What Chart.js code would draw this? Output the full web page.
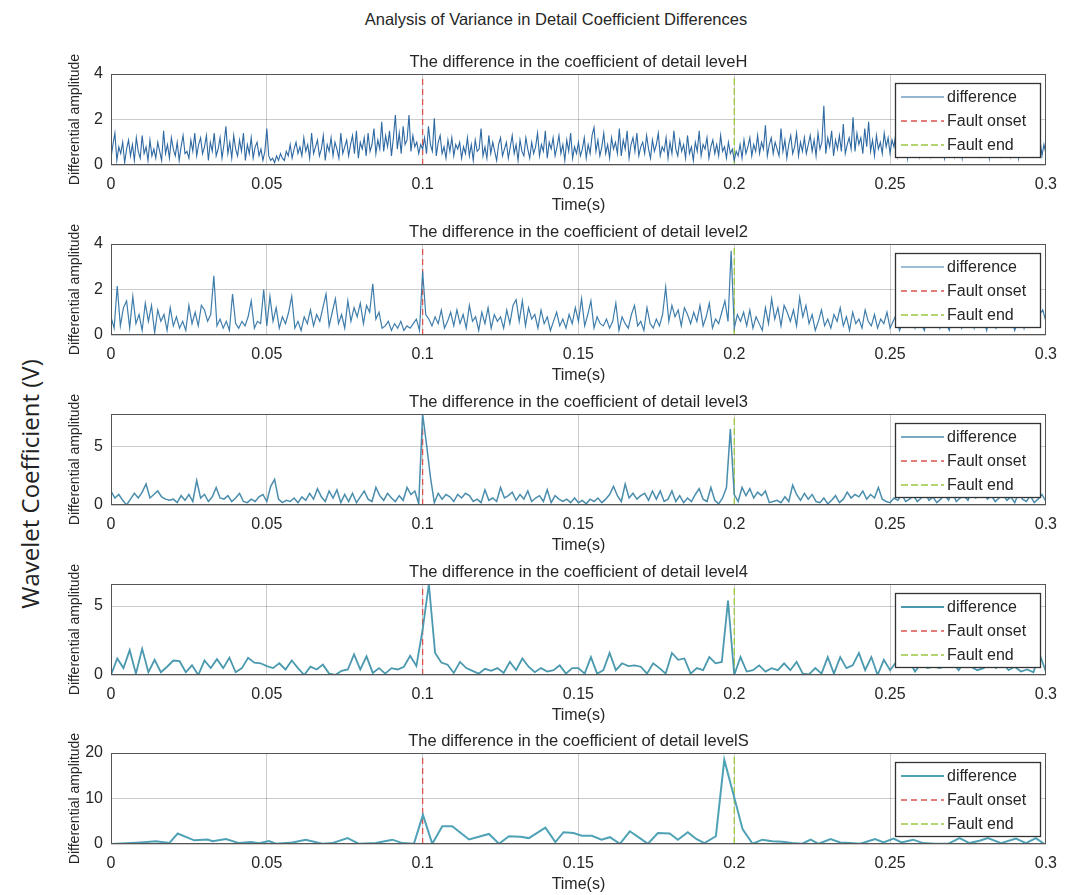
<!DOCTYPE html>
<html>
<head>
<meta charset="utf-8">
<title>Analysis of Variance in Detail Coefficient Differences</title>
<script src="https://cdn.jsdelivr.net/npm/chart.js@4.4.1/dist/chart.umd.min.js"></script>
<style>
  body { margin: 0; background: #fff; }
  #page { position: relative; width: 1067px; height: 895px; overflow: hidden;
          font-family: "Liberation Sans", Arial, sans-serif; color: #262626; }
  #mainTitle { position: absolute; left: 0; top: 10px; width: 1112px; text-align: center; font-size: 16.5px; }
  #bigLabel { position: absolute; left: -170px; top: 468px; width: 400px; height: 32px; line-height: 32px;
              text-align: center; font-family: "Open Sans", "Noto Sans", sans-serif; font-size: 24px;
              color: #222; transform: rotate(-90deg); }
  canvas { position: absolute; left: 0; }
</style>
</head>
<body>
<div id="page">
  <div id="mainTitle">Analysis of Variance in Detail Coefficient Differences</div>
  <div id="bigLabel">Wavelet Coefficient (V)</div>
  <canvas id="c1" width="1067" height="181"></canvas>
  <canvas id="c2" width="1067" height="181"></canvas>
  <canvas id="c3" width="1067" height="181"></canvas>
  <canvas id="c4" width="1067" height="181"></canvas>
  <canvas id="c5" width="1067" height="181"></canvas>
</div>
<script>
// Tijd-as en foutmomenten
const xTicks = [0, 0.05, 0.1, 0.15, 0.2, 0.25, 0.3];
const faultOnset = 0.1;
const faultEnd = 0.2;

const titles = [
  "The difference in the coefficient of detail leveH",
  "The difference in the coefficient of detail level2",
  "The difference in the coefficient of detail level3",
  "The difference in the coefficient of detail level4",
  "The difference in the coefficient of detail levelS",
];
const yMax = [4, 4, 7.8, 6.6, 20];
const yTicks1 = [0, 2, 4];
const yTicks2 = [0, 2, 4];
const yTicks3 = [0, 5];
const yTicks4 = [0, 5];
const yTicks5 = [0, 10, 20];

// Level 1: sample period 0.000625 s
const dt1 = 0.000625;
const level1Values = [
  0.3, 0.9, 1.4, 0.2, 0.8, 0.5, 1.0, 0.1, 0.7, 1.1, 0.4, 0.9, 0.2, 1.2, 0.6, 0.3, 1.3, 0.5, 0.8, 0.2,
  1.1, 0.4, 0.7, 0.3, 1.0, 0.6, 0.2, 1.5, 0.5, 0.9, 0.3, 1.2, 0.7, 0.4, 1.0, 0.2, 0.8, 1.3, 0.5, 0.6,
  0.3, 1.1, 0.6, 1.4, 0.4, 0.9, 1.2, 0.5, 0.8, 1.3, 0.2, 1.0, 0.6, 1.4, 0.4, 0.7, 1.2, 0.3, 0.9, 1.7,
  0.5, 1.0, 0.3, 1.3, 0.7, 0.4, 1.1, 0.6, 1.4, 0.2, 0.9, 0.5, 1.2, 0.3, 0.8, 1.0, 0.4, 0.7, 0.2, 0.6,
  1.6, 0.4, 0.2, 0.3, 0.1, 0.4, 0.2, 0.5, 0.3, 0.2, 0.6, 0.4, 0.9, 0.3, 0.7, 1.0, 0.5, 0.8, 0.4, 1.2,
  0.6, 0.9, 0.3, 1.4, 0.5, 0.8, 1.1, 0.4, 0.7, 1.3, 0.2, 0.9, 0.6, 1.2, 0.4, 1.0, 0.7, 0.3, 1.4, 0.5,
  0.8, 1.1, 0.4, 0.9, 1.3, 0.5, 1.5, 0.3, 1.0, 0.7, 1.2, 0.4, 1.4, 0.6, 0.9, 1.6, 0.5, 1.1, 0.7, 1.9,
  0.6, 1.3, 0.8, 1.5, 0.4, 1.2, 2.2, 0.7, 1.4, 0.5, 1.7, 0.9, 1.1, 2.2, 0.6, 1.3, 0.8, 1.0, 0.5, 0.9,
  0.7, 1.2, 0.5, 1.7, 0.9, 0.6, 2.05, 0.4, 1.0, 1.3, 0.5, 0.8, 0.3, 1.1, 0.6, 1.2, 0.4, 0.9, 0.7, 1.0,
  0.3, 0.8, 0.5, 1.2, 0.4, 0.9, 0.2, 1.1, 0.6, 0.7, 1.6, 0.4, 0.8, 0.3, 1.3, 0.5, 1.0, 0.6, 0.2, 0.9,
  1.2, 0.4, 0.7, 1.0, 0.3, 0.8, 1.3, 0.5, 0.9, 0.2, 1.1, 0.6, 0.4, 1.2, 0.7, 0.3, 1.0, 0.5, 0.8, 1.4,
  0.4, 0.9, 0.6, 1.5, 0.3, 1.0, 0.7, 1.2, 0.4, 0.8, 1.3, 0.5, 0.9, 0.2, 1.1, 0.6, 1.4, 0.3, 0.8, 0.5,
  1.0, 0.4, 0.7, 1.2, 0.3, 0.9, 0.5, 1.3, 1.65, 0.6, 1.1, 0.4, 0.8, 1.4, 0.5, 0.9, 0.3, 1.2, 0.7, 1.0,
  0.5, 1.6, 0.4, 1.1, 0.7, 1.5, 0.3, 0.9, 1.2, 0.6, 1.4, 0.4, 0.8, 1.0, 0.5, 1.3, 0.7, 0.3, 1.1, 0.6,
  0.9, 1.4, 0.4, 0.8, 0.6, 1.2, 0.3, 1.0, 0.5, 1.5, 0.7, 0.4, 1.1, 0.6, 0.9, 0.3, 1.3, 0.5, 0.8, 0.2,
  1.0, 0.6, 1.5, 0.4, 0.9, 0.7, 1.2, 0.3, 0.8, 1.1, 0.5, 0.9, 0.4, 1.3, 0.6, 0.8, 0.3, 1.0, 0.5, 0.7,
  0.2, 0.6, 0.4, 0.9, 0.3, 1.1, 0.5, 0.8, 1.2, 0.4, 0.9, 0.6, 1.3, 0.5, 1.0, 0.7, 1.75, 0.4, 0.9, 1.2,
  0.5, 1.0, 0.7, 0.4, 1.6, 0.6, 1.1, 0.3, 0.9, 1.3, 0.5, 0.8, 1.4, 0.4, 1.0, 0.6, 1.2, 0.5, 0.9, 1.3,
  0.6, 1.1, 0.4, 1.4, 0.7, 1.0, 2.6, 0.5, 1.2, 0.8, 1.5, 0.4, 1.1, 0.7, 1.3, 0.6, 1.8, 0.5, 0.9, 1.2,
  0.7, 2.1, 0.6, 1.4, 0.9, 1.2, 0.5, 1.6, 0.8, 1.9, 0.6, 1.1, 0.4, 1.3, 0.7, 1.0, 0.5, 1.4, 0.8, 1.2,
  0.5, 1.1, 0.8, 1.4, 0.4, 0.9, 1.2, 0.6, 1.0, 0.3, 1.3, 0.7, 0.9, 0.5, 1.2, 0.4, 1.0, 0.7, 1.5, 0.6,
  1.1, 0.4, 0.9, 1.3, 0.5, 1.0, 0.7, 1.2, 0.3, 0.8, 1.4, 0.6, 1.0, 0.4, 1.2, 0.7, 0.9, 0.3, 1.1, 0.5,
  0.9, 1.3, 0.5, 1.0, 0.7, 1.2, 0.4, 0.8, 1.1, 0.6, 1.3, 0.3, 0.9, 0.7, 1.2, 0.5, 1.0, 0.4, 0.8, 1.1,
  0.6, 1.0, 0.4, 1.2, 0.7, 0.9, 0.3, 1.1, 0.5, 1.3, 0.7, 0.4, 1.0, 0.6, 1.2, 0.5, 0.8, 1.1, 0.4, 0.9,
  0.5,
];

// Level 2: sample period 0.001 s
const dt2 = 0.001;
const level2Values = [
  0.8, 0.3, 2.15, 0.4, 1.2, 1.5, 0.3, 1.7, 0.5, 0.9, 0.2, 1.4, 0.6, 1.3, 0.1, 1.1, 0.6, 0.9, 0.2, 1.2, 0.4, 0.8, 0.3, 0.6, 0.2,
  1.3, 0.5, 1.0, 0.4, 1.3, 1.1, 0.6, 0.9, 2.6, 0.4, 0.7, 0.3, 0.6, 0.2, 1.8, 0.5, 0.3, 0.6, 0.4, 0.8, 1.5, 0.3, 0.6, 0.5, 2.0,
  0.4, 1.7, 0.6, 1.2, 0.3, 0.8, 0.5, 1.0, 1.7, 0.3, 0.6, 0.2, 0.8, 0.5, 1.1, 0.4, 0.9, 0.6, 1.2, 1.8, 0.4, 1.0, 1.6, 0.5, 0.9,
  0.3, 1.5, 0.6, 1.2, 0.8, 1.4, 0.5, 1.3, 1.0, 2.25, 0.7, 1.0, 0.3, 0.4, 0.6, 0.2, 0.5, 0.3, 0.6, 0.2, 0.4, 0.3, 0.5, 0.7, 0.2,
  2.8, 0.9, 0.7, 0.4, 0.8, 0.5, 1.1, 0.3, 0.6, 1.0, 0.4, 1.1, 0.5, 0.9, 0.3, 1.3, 0.6, 0.8, 0.2, 1.0, 0.5, 1.2, 0.3, 0.9, 0.6,
  0.8, 0.3, 1.1, 0.5, 1.3, 1.55, 0.6, 1.5, 0.4, 1.2, 0.7, 0.9, 0.3, 1.1, 0.5, 0.8, 0.2, 0.6, 1.0, 0.4, 0.7, 0.3, 0.9, 0.5, 1.2,
  0.6, 1.6, 0.4, 0.9, 1.5, 0.3, 0.8, 0.5, 0.4, 0.7, 0.3, 0.6, 1.4, 0.2, 0.8, 0.5, 0.3, 0.9, 1.3, 0.4, 0.6, 0.2, 1.2, 0.5, 0.3,
  0.7, 0.4, 0.9, 2.1, 0.6, 1.3, 0.8, 1.1, 0.4, 1.2, 0.9, 0.5, 1.0, 0.6, 1.3, 0.4, 0.8, 1.4, 0.3, 0.7, 0.5, 1.0, 1.5, 0.6, 3.7,
  0.3, 0.9, 0.6, 1.0, 0.4, 1.1, 0.3, 0.8, 0.5, 0.2, 1.2, 0.5, 1.6, 0.7, 1.2, 0.4, 1.3, 1.0, 0.6, 1.1, 0.4, 1.65, 0.8, 1.3, 0.5,
  0.9, 0.2, 0.6, 1.1, 0.4, 0.7, 0.3, 0.9, 0.6, 1.2, 0.4, 0.8, 0.2, 1.0, 0.5, 0.7, 0.3, 1.1, 0.6, 0.4, 0.9, 0.3, 0.7, 0.5, 1.0,
  0.3, 0.6, 0.9, 0.2, 0.5, 1.0, 0.4, 0.7, 0.3, 0.8, 0.5, 0.2, 0.9, 0.4, 0.6, 1.0, 0.3, 0.7, 0.5, 0.2, 0.8, 0.4, 0.9, 0.3, 0.6,
  0.5, 1.0, 0.3, 0.8, 0.4, 0.7, 0.2, 0.9, 0.6, 0.3, 0.8, 0.5, 1.0, 0.4, 0.7, 0.2, 0.6, 0.9, 0.3, 0.8, 0.5, 1.0, 0.4, 0.9, 1.1,
  0.6,
];

// Level 3: sample period 0.00125 s
const dt3 = 0.00125;
const level3Values = [
  1.2, 0.6, 0.9, 0.4, 0.0, 0.5, 1.0, 0.6, 1.1, 1.8, 0.6, 0.9, 1.2, 0.7, 0.5, 0.4, 0.5, 0.2, 0.8, 0.4,
  0.9, 0.3, 2.1, 0.6, 0.9, 0.3, 0.7, 1.5, 0.6, 0.5, 0.8, 0.3, 0.6, 1.0, 0.3, 0.2, 0.5, 0.3, 0.7, 0.9,
  0.3, 1.6, 2.2, 0.5, 0.2, 0.4, 0.3, 0.6, 0.2, 0.7, 0.4, 1.0, 0.5, 1.4, 0.7, 0.3, 1.2, 0.6, 1.3, 0.2,
  0.9, 0.3, 1.0, 0.2, 0.7, 1.2, 0.5, 0.3, 1.5, 0.8, 0.4, 1.0, 0.6, 0.3, 0.8, 0.4, 1.5, 0.9, 1.2, 0.1,
  7.8, 5.2, 2.4, 0.2, 1.0, 0.5, 0.9, 0.7, 0.3, 0.9, 0.6, 1.0, 0.8, 0.3, 0.5, 0.2, 1.3, 0.4, 0.6, 0.3,
  1.5, 0.6, 0.8, 1.1, 0.4, 0.9, 0.5, 1.2, 0.3, 0.6, 0.8, 0.3, 1.3, 0.2, 0.8, 0.5, 0.3, 0.5, 0.2, 0.6,
  0.2, 0.4, 0.1, 0.5, 0.3, 0.6, 0.2, 0.5, 0.9, 1.6, 0.8, 0.3, 1.8, 0.6, 1.0, 0.5, 0.8, 1.0, 0.4, 1.2,
  0.5, 1.2, 0.3, 0.5, 1.2, 0.3, 0.8, 0.2, 0.6, 0.3, 0.9, 1.4, 0.5, 0.3, 1.5, 0.4, 0.1, 0.6, 1.5, 6.5,
  0.9, 0.3, 1.5, 0.8, 1.4, 0.6, 1.1, 0.8, 1.2, 0.2, 0.3, 0.4, 0.2, 0.7, 0.3, 1.7, 0.9, 0.4, 1.0, 0.5,
  0.9, 0.3, 0.2, 0.6, 0.1, 0.4, 0.8, 0.2, 0.5, 1.1, 0.6, 0.9, 0.7, 1.2, 0.5, 0.9, 0.6, 1.5, 0.5, 0.3,
  0.2, 0.6, 0.4, 0.9, 0.3, 0.5, 0.8, 0.3, 0.6, 1.0, 0.4, 0.7, 0.2, 0.5, 0.9, 0.4, 1.1, 0.3, 0.6, 0.8,
  0.4, 1.2, 0.6, 0.9, 1.1, 0.5, 0.8, 0.3, 0.6, 0.9, 0.4, 0.7, 0.2, 1.0, 0.5, 0.3, 0.8, 0.2, 0.5, 0.9,
  0.3,
];

// Level 4: sample period 0.002 s
const dt4 = 0.002;
const level4Values = [
  0, 1.2, 0.5, 1.8, 0.1, 1.9, 0.2, 1.1, 0.2, 0.6, 1.05, 1.0, 0.2, 0.7, 0, 1.05, 0.5, 1.15, 0.5, 1.25,
  0.2, 0.5, 1.25, 0.9, 0.85, 0.65, 0.5, 0.85, 0.4, 1.05, 0.5, 0, 0.6, 0.4, 0.75, 0.1, 0, 0.3, 0.4, 1.5,
  0.4, 1.35, 0.15, 0.5, 0.1, 0.5, 0.4, 0.6, 1.4, 0.65,
  3.3, 6.6, 1.6,
  0.9, 0.75, 0.15, 0.95, 0.5, 0.3, 0.1, 0.45, 0.3, 0.5, 0.15, 0.95, 0.35, 1.2, 0.6,
  0.2, 0.5, 0.25, 0.35, 0.7, 0.1, 0.5, 0.5, 0.1, 1.3, 0.1, 0.35, 1.6, 0.35, 0.85, 0.65, 0.7, 0.6, 0.1, 0.85,
  0.5, 0.1, 1.6, 1.1, 1.2, 0.1, 0.5, 0.35, 1.3, 0.85, 0.95, 5.4, 0,
  1.3, 0.25, 0.35, 0.7, 0.25, 0.5, 0.35, 0.85, 0.35, 0.95, 0.1, 0.05, 0.5, 0.1, 1.3, 0.1, 1.3, 0.5, 0.7, 1.6,
  0.35, 1.3, 0, 1.1, 0.35, 0.95, 0.6, 1.1, 0.25, 0.85, 0.5, 0.6, 0.5, 0.7, 0.95, 0.35, 1.0, 0.6, 0.35, 0.5,
  0.85, 0.5, 0.95, 0.35, 0.6, 0.25, 0.4, 0.2, 1.5, 0.25,
];

// Level 5: tijdstippen en waarden
const level5Times = [
  0, 0.0048, 0.0096, 0.0144, 0.0187, 0.0214, 0.0267, 0.031, 0.0326, 0.0369, 0.0411, 0.0449, 0.0475, 0.0507,
  0.0529, 0.0582, 0.0625, 0.0678, 0.071, 0.0759, 0.0796, 0.0849, 0.0903, 0.0935, 0.0972, 0.1001, 0.1031,
  0.1063, 0.1095, 0.1149, 0.1213, 0.1245, 0.1277, 0.1314, 0.1341, 0.1394, 0.1426, 0.1452, 0.1484, 0.1511,
  0.1543, 0.1574, 0.1601, 0.1633, 0.1665, 0.1697, 0.1723, 0.1755, 0.1793, 0.1819, 0.1851, 0.1878, 0.1904,
  0.1941, 0.1968, 0.2027, 0.2059, 0.209, 0.2122, 0.2154, 0.2186, 0.2218, 0.2245, 0.2271, 0.2309, 0.234,
  0.2372, 0.2404, 0.2452, 0.2479, 0.2511, 0.2537, 0.2574, 0.2606, 0.2644, 0.2686, 0.2723, 0.2755, 0.2787,
  0.2814, 0.2856, 0.2904, 0.2936, 0.2968, 0.2995, 0.3,
];
const level5Values = [
  0, 0.15, 0.35, 0.6, 0.2, 2.3, 0.8, 1.0, 0.6, 1.1, 0.2, 0.45, 0.15, 0.65,
  0.05, 0.35, 0.95, 0.05, 0.2, 1.3, 0.05, 0.2, 0.95, 0.2, 0.05, 6.4, 0.05,
  3.9, 3.9, 1.0, 2.2, 0.05, 1.7, 1.6, 1.3, 3.6, 0.4, 2.6, 2.4, 1.8,
  1.8, 0.95, 1.5, 0.05, 2.8, 1.3, 0.05, 2.4, 2.3, 0.95, 2.6, 1.1, 0.2,
  1.7, 18.5, 3.2, 0.05, 0.95, 0.6, 0.5, 0.2, 0.05, 0.95, 0.05, 1.1, 0.35,
  0.2, 0.05, 1.1, 0.35, 1.2, 0.35, 0.95, 0.2, 0.05, 0.05, 1.3, 0.2, 0.7,
  1.3, 0.2, 1.2, 0.2, 1.3, 0.0, 0.0,
];

// Opmaak per subplot
const plotTops = [74, 244, 414, 584, 753];
const lineColors = ["#2f69a2", "#3f7dab", "#4a8dad", "#4a99ae", "#4fa2b6"];
const lineWidths = [1.1, 1.2, 1.5, 1.8, 2];
const onsetColor = "#d9534f";
const endColor = "#9cc83e";

const seriesPoints = [
  level1Values.map((v, i) => ({ x: i * dt1, y: v })),
  level2Values.map((v, i) => ({ x: i * dt2, y: v })),
  level3Values.map((v, i) => ({ x: i * dt3, y: v })),
  level4Values.map((v, i) => ({ x: i * dt4, y: v })),
  level5Values.map((v, i) => ({ x: level5Times[i], y: v })),
];
const yTickSets = [yTicks1, yTicks2, yTicks3, yTicks4, yTicks5];

Chart.defaults.font.family = '"Liberation Sans", Arial, sans-serif';
Chart.defaults.color = "#262626";

// Box rond de assen, legenda en titels
const decorPlugin = {
  id: "decor",
  afterDraw(chart, args, opts) {
    const { ctx, chartArea: a } = chart;
    ctx.save();
    ctx.strokeStyle = "#555";
    ctx.lineWidth = 1;
    ctx.strokeRect(Math.round(a.left) + 0.5, Math.round(a.top) + 0.5,
      Math.round(a.right - a.left) - 1, Math.round(a.bottom - a.top) - 1);

    // Legenda
    const lx = Math.round(a.right) - 151, ly = Math.round(a.top) + 9, lw = 145, lh = 74;
    ctx.fillStyle = "#fff";
    ctx.fillRect(lx, ly, lw, lh);
    ctx.strokeStyle = "#333";
    ctx.lineWidth = 1.3;
    ctx.strokeRect(lx + 0.5, ly + 0.5, lw, lh);
    chart.data.datasets.forEach((ds, i) => {
      const y = ly + 14 + i * 24;
      ctx.beginPath();
      ctx.setLineDash(ds.borderDash || []);
      ctx.strokeStyle = ds.borderColor;
      ctx.lineWidth = ds.borderWidth;
      ctx.moveTo(lx + 6, y);
      ctx.lineTo(lx + 49, y);
      ctx.stroke();
      ctx.setLineDash([]);
      ctx.fillStyle = "#262626";
      ctx.font = '16px "Liberation Sans", Arial, sans-serif';
      ctx.textAlign = "left";
      ctx.textBaseline = "middle";
      ctx.fillText(ds.label, lx + 52, y + 1);
    });

    // Titels
    const cx = (a.left + a.right) / 2;
    ctx.fillStyle = "#262626";
    ctx.textAlign = "center";
    ctx.textBaseline = "middle";
    ctx.font = '16.5px "Liberation Sans", Arial, sans-serif';
    ctx.fillText(opts.title, cx, a.top - 12);
    ctx.font = '16px "Liberation Sans", Arial, sans-serif';
    ctx.fillText("Time(s)", cx, a.bottom + 41);
    ctx.save();
    ctx.translate(75, (a.top + a.bottom) / 2);
    ctx.rotate(-Math.PI / 2);
    ctx.font = '14px "Liberation Sans", Arial, sans-serif';
    ctx.fillText("Differential amplitude", 0, 0);
    ctx.restore();
    ctx.restore();
  },
};

// Maak de vijf subplots
seriesPoints.forEach((points, k) => {
  const canvas = document.getElementById(`c${k + 1}`);
  canvas.style.top = `${plotTops[k] - 40}px`;
  new Chart(canvas, {
    type: "line",
    data: {
      datasets: [
        {
          label: "difference",
          data: points,
          borderColor: lineColors[k],
          borderWidth: lineWidths[k],
          pointRadius: 0,
          tension: 0,
        },
        {
          label: "Fault onset",
          data: [{ x: faultOnset, y: 0 }, { x: faultOnset, y: yMax[k] }],
          borderColor: onsetColor,
          borderWidth: 1.3,
          borderDash: [6, 4],
          pointRadius: 0,
        },
        {
          label: "Fault end",
          data: [{ x: faultEnd, y: 0 }, { x: faultEnd, y: yMax[k] }],
          borderColor: endColor,
          borderWidth: 1.3,
          borderDash: [7, 3],
          pointRadius: 0,
        },
      ],
    },
    options: {
      responsive: false,
      animation: false,
      events: [],
      layout: { padding: { left: 66, right: 18, top: 40, bottom: 0 } },
      plugins: {
        legend: { display: false },
        tooltip: { enabled: false },
        decor: { title: titles[k] },
      },
      scales: {
        x: {
          type: "linear",
          min: 0,
          max: 0.3,
          afterBuildTicks: (scale) => { scale.ticks = xTicks.map(v => ({ value: v })); },
          afterFit: (scale) => { scale.height = 50; },
          ticks: { callback: (v) => String(v), maxRotation: 0, autoSkip: false, padding: 10, font: { size: 16 }, color: "#262626" },
          grid: { color: "rgba(0,0,0,0.2)", drawTicks: false },
          border: { display: false },
        },
        y: {
          min: 0,
          max: yMax[k],
          afterBuildTicks: (scale) => { scale.ticks = yTickSets[k].map(v => ({ value: v })); },
          afterFit: (scale) => { scale.width = 45; },
          ticks: { callback: (v) => String(v), padding: 8, font: { size: 16 }, color: "#262626" },
          grid: { color: "rgba(0,0,0,0.2)", drawTicks: false },
          border: { display: false },
        },
      },
    },
    plugins: [decorPlugin],
  });
});
</script>
</body>
</html>
